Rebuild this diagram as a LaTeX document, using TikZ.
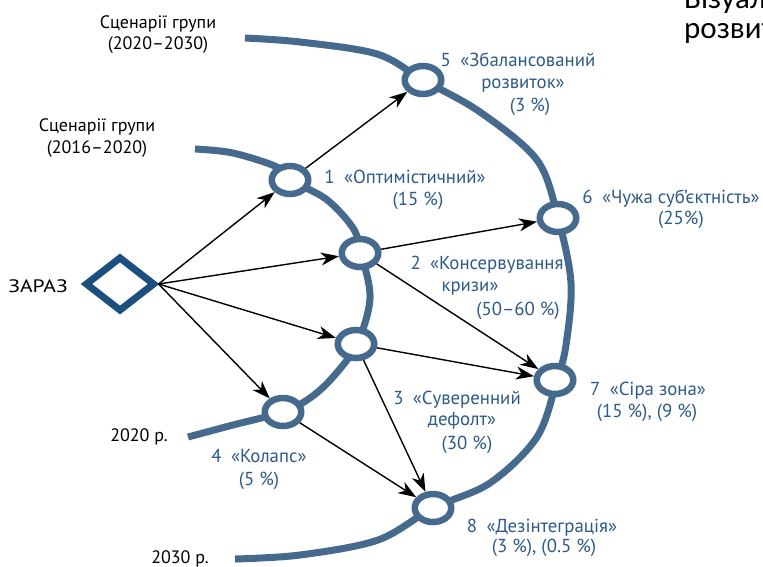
\documentclass[tikz,border=0pt]{standalone}
\usepackage{fontspec}
\setmainfont{PT Sans}
\newfontfamily\slidefont{Carlito}
\newfontfamily\widefont[FakeStretch=1.2]{PT Sans}
\usetikzlibrary{shapes.geometric,arrows.meta}
\definecolor{arcblue}{RGB}{70,106,142}
\definecolor{labblue}{RGB}{45,90,138}
\definecolor{diablue}{RGB}{27,79,127}
\begin{document}
\begin{tikzpicture}[x=1pt,y=-1pt,
  arcline/.style={draw=arcblue,line width=7pt},
  scen/.style={ellipse,draw=arcblue,line width=6.5pt,fill=white,minimum width=36.5pt,minimum height=28pt,inner sep=0pt,outer sep=3.25pt},
  conn/.style={draw=black,line width=1.4pt,-{Stealth[length=18pt,width=13pt,inset=5.5pt]}},
  lab/.style={text=labblue,font=\fontsize{18.8}{22}\selectfont,inner sep=0pt,anchor=base},
  blk/.style={text=black,font=\fontsize{18}{21}\selectfont,inner sep=0pt,anchor=base},
  slide/.style={text=black,font=\slidefont\fontsize{31}{31}\selectfont,inner sep=0pt,anchor=base west}
]
\useasboundingbox (0,0) rectangle (763,566);
\clip (0,0) rectangle (763,566);
\fill[white] (0,0) rectangle (763,566);

% slide title fragments
\node[slide] (t1) at (684,8) {Візуалізація};
\node[slide] (t2) at (684,38) {розвитку};

% time arcs
\draw[arcline] plot[smooth,tension=0.55] coordinates {(195,149) (233,153) (277,167) (290,180) (326,199) (353,228) (361,253) (370,298) (357,344) (333,377) (310,398) (283,412) (233,425) (188,437)};
\draw[arcline] plot[smooth,tension=0.55] coordinates {(245,38) (300,42) (377,54) (423,80) (480,112) (537,160) (558,218) (571,283) (566,345) (557,380) (537,437) (490,483) (433,508) (378,540) (300,555) (235,559)};

% start
\node[diamond,draw=diablue,line width=7pt,minimum width=70pt,minimum height=55pt,inner sep=0pt,fill=white] (d) at (120,284) {};

% scenario nodes
\node[scen] (n1) at (290,180) {};
\node[scen] (n2) at (360,253) {};
\node[scen] (n3) at (356,344) {};
\node[scen] (n4) at (283,412) {};
\node[scen] (n5) at (423,80) {};
\node[scen] (n6) at (558,218) {};
\node[scen] (n7) at (555,380) {};
\node[scen] (n8) at (433,508) {};

% connectors
\draw[conn] (d.east) -- (n1);
\draw[conn] (d.east) -- (n2);
\draw[conn] (d.east) -- (n3);
\draw[conn] (d.east) -- (n4);
\draw[conn] (n1) -- (n5);
\draw[conn] (n2) -- (n6);
\draw[conn] (n2) -- (n7);
\draw[conn] (n3) -- (n7);
\draw[conn] (n3) -- (n8);
\draw[conn] (n4) -- (n8);

% black labels
\node[blk] (g1a) at (158,28) {Сценарії групи};
\node[blk] (g1b) at (158,49) {(2020–2030)};
\node[blk] (g2a) at (97,131) {Сценарії групи};
\node[blk] (g2b) at (97,153) {(2016–2020)};
\node[blk,font=\widefont\fontsize{18}{21}\selectfont] (now) at (38,292) {ЗАРАЗ};
\node[blk] (y1) at (139,441) {2020 р.};
\node[blk] (y2) at (180,563) {2030 р.};

% scenario labels
\node[lab] (l1a) at (405,183) {1\enspace«Оптимістичний»};
\node[lab] (l1b) at (418,205) {(15 \%)};
\node[lab] (l2a) at (487,269) {2\enspace«Консервування};
\node[lab] (l2b) at (470,291) {кризи»};
\node[lab] (l2c) at (518,315) {(50–60 \%)};
\node[lab] (l3a) at (457,404) {3\enspace«Суверенний};
\node[lab] (l3b) at (462,425) {дефолт»};
\node[lab] (l3c) at (467,449) {(30 \%)};
\node[lab] (l4a) at (259,462) {4\enspace«Колапс»};
\node[lab] (l4b) at (259,485) {(5 \%)};
\node[lab] (l5a) at (518,66) {5\enspace«Збалансований};
\node[lab] (l5b) at (523,88) {розвиток»};
\node[lab] (l5c) at (530,111) {(3 \%)};
\node[lab] (l6a) at (671,203) {6\enspace«Чужа суб’єктність»};
\node[lab] (l6b) at (681,224) {(25\%)};
\node[lab] (l7a) at (648,395) {7\enspace«Сіра зона»};
\node[lab] (l7b) at (647,417) {(15 \%), (9 \%)};
\node[lab] (l8a) at (542,532) {8\enspace«Дезінтеграція»};
\node[lab] (l8b) at (544,552) {(3 \%), (0.5 \%)};
\end{tikzpicture}
\end{document}
